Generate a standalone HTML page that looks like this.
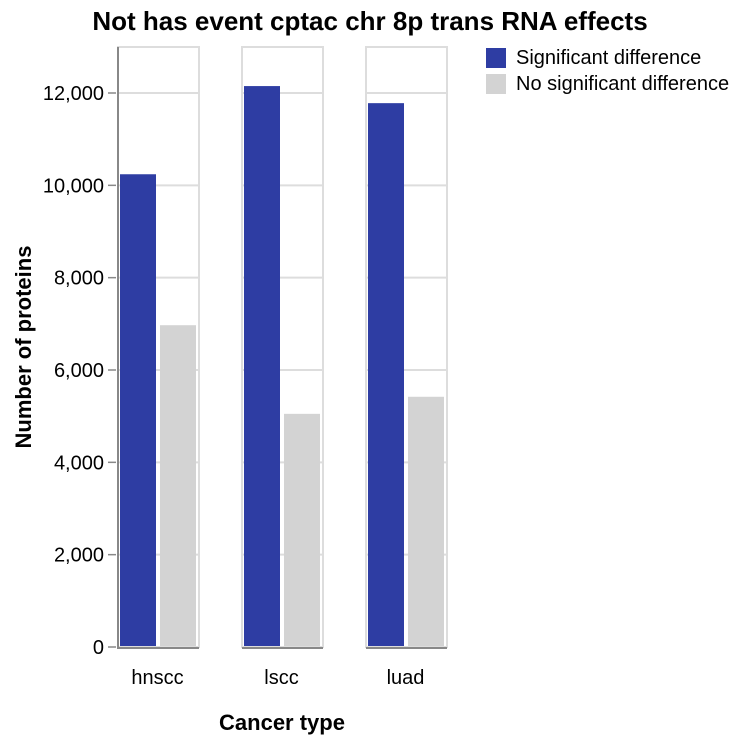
<!DOCTYPE html>
<html><head><meta charset="utf-8"><style>
body{margin:0;background:#fff;}
svg{display:block;font-family:"Liberation Sans",sans-serif;}
</style></head><body>
<svg id="c" width="740" height="744"></svg>
<script>
const categories=["hnscc","lscc","luad"];
const sigValues=[10240,12150,11780];
const nonSigValues=[6970,5050,5420];
const yTicks=[0,2000,4000,6000,8000,10000,12000];
const seriesNames=["Significant difference","No significant difference"];
const colors=["#2e3da3","#d3d3d3"];
const NS="http://www.w3.org/2000/svg";
const svg=document.getElementById('c');
function el(t,a,p){const e=document.createElementNS(NS,t);for(const k in a)e.setAttribute(k,a[k]);(p||svg).appendChild(e);return e;}
const y0=647,yTop=47,scaleY=554/12000;
function yS(v){return y0-v*scaleY;}
const panelX0=118,panelStep=124,panelW=81;
let t=el('text',{x:370,y:30,'text-anchor':'middle','font-size':26,'font-weight':'bold',fill:'#000'});t.textContent="Not has event cptac chr 8p trans RNA effects";

categories.forEach((cat,i)=>{
  const px=panelX0+i*panelStep;
  const g=el('g',{});
  
  el('rect',{x:px,y:yTop,width:panelW,height:y0-yTop,fill:'none',stroke:'#ddd','stroke-width':2},g);
  yTicks.forEach(v=>{if(v>0)el('line',{x1:px,x2:px+panelW,y1:yS(v),y2:yS(v),stroke:'#ddd','stroke-width':2},g);});
  const vals=[sigValues[i],nonSigValues[i]];
  vals.forEach((v,j)=>{
    const r=el('rect',{x:px+2+j*40,y:yS(v),width:36,height:v*scaleY-1,fill:colors[j]},g);
    
    
  });
  el('line',{x1:px,x2:px+panelW,y1:y0+1,y2:y0+1,stroke:'#888','stroke-width':2},g);
  const l=el('text',{x:px+panelW/2-1,y:684,'text-anchor':'middle','font-size':20,fill:'#000'},g);l.textContent=cat;
  
});
el('line',{x1:118,x2:118,y1:yTop,y2:y0+2,stroke:'#888','stroke-width':2});
yTicks.forEach(v=>{
  el('line',{x1:108,x2:116,y1:yS(v),y2:yS(v),stroke:'#888','stroke-width':1.5});
  const tx=el('text',{x:104,y:yS(v)+7,'text-anchor':'end','font-size':20,fill:'#000'});tx.textContent=v.toLocaleString('en-US');
  
});
let yt=el('text',{x:0,y:0,transform:'translate(31,347) rotate(-90)','text-anchor':'middle','font-size':22,'font-weight':'bold'});yt.textContent="Number of proteins";

let xt=el('text',{x:282,y:730,'text-anchor':'middle','font-size':22,'font-weight':'bold'});xt.textContent="Cancer type";

seriesNames.forEach((n,i)=>{
  const g=el('g',{});
  
  el('rect',{x:486,y:48+i*26,width:20,height:20,fill:colors[i]},g);
  const tx=el('text',{x:516,y:64+i*26,'font-size':20,fill:'#000'},g);tx.textContent=n;
});
</script>
</body></html>
